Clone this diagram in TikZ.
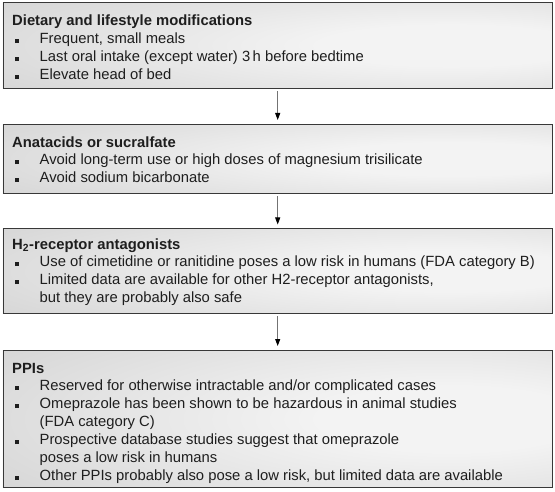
\documentclass[tikz,border=0pt]{standalone}
\usepackage{fontspec}
\setmainfont{Liberation Sans}
\usetikzlibrary{arrows.meta}
\definecolor{bxa}{HTML}{F3F3F3}
\definecolor{bxb}{HTML}{D8D8D8}
\definecolor{bxc}{HTML}{C6C6C6}
\definecolor{txt}{HTML}{1E1E1E}
\pgfdeclareradialshading{boxshade}{\pgfpoint{18bp}{0bp}}{color(0bp)=(bxa); color(12bp)=(bxa); color(42bp)=(bxb); color(64bp)=(bxc); color(100bp)=(bxc)}
\newcommand{\bul}{\makebox[27.5pt][l]{\hspace*{2.5pt}\rule{4pt}{4pt}}}
\newcommand{\cont}{\hspace*{27.5pt}}
\tikzset{
  box/.style={draw=black!78, line width=0.9pt, shading=boxshade, rectangle,
    minimum width=549.5pt, anchor=north west, inner sep=0pt},
  boxtext/.style={anchor=north west, inner sep=0pt, align=left, text=txt,
    font=\fontsize{14.8}{18}\selectfont},
  flow/.style={draw=black!55, line width=0.9pt,
    -{Triangle[length=7pt,width=5pt,color=black]}, shorten <=2.5pt, shorten >=4pt}
}
\begin{document}
\begin{tikzpicture}[x=1pt,y=-1pt]
\useasboundingbox (0,0) rectangle (555,492);
\node[box, minimum height=86pt] (b1) at (2.5,2) {};
\node[box, minimum height=69pt] (b2) at (2.5,124) {};
\node[box, minimum height=84.5pt] (b3) at (2.5,228.5) {};
\node[box, minimum height=137pt] (b4) at (2.5,350) {};

\node[boxtext] (t1) at (12,12.4) {\strut\textbf{Dietary and lifestyle modifications}\\
\strut\bul Frequent, small meals\\
\strut\bul Last oral intake (except water) 3\,h before bedtime\\
\strut\bul Elevate head of bed};

\node[boxtext] (t2) at (12,134.4) {\strut\textbf{Anatacids or sucralfate}\\[-1pt]
\strut\bul Avoid long-term use or high doses of magnesium trisilicate\\
\strut\bul Avoid sodium bicarbonate};

\node[boxtext] (t3) at (12,236.4) {\strut\textbf{H\textsubscript{2}-receptor antagonists}\\[-1pt]
\strut\bul Use of cimetidine or ranitidine poses a low risk in humans (FDA category B)\\
\strut\bul Limited data are available for other H2-receptor antagonists,\\
\strut\cont but they are probably also safe};

\node[boxtext] (t4) at (12,360.4) {\strut\textbf{PPIs}\\[-1pt]
\strut\bul Reserved for otherwise intractable and/or complicated cases\\
\strut\bul Omeprazole has been shown to be hazardous in animal studies\\
\strut\cont (FDA category C)\\
\strut\bul Prospective database studies suggest that omeprazole\\
\strut\cont poses a low risk in humans\\
\strut\bul Other PPIs probably also pose a low risk, but limited data are available};

\draw[flow] (b1.south) -- (b2.north);
\draw[flow] (b2.south) -- (b3.north);
\draw[flow] (b3.south) -- (b4.north);
\end{tikzpicture}
\end{document}
